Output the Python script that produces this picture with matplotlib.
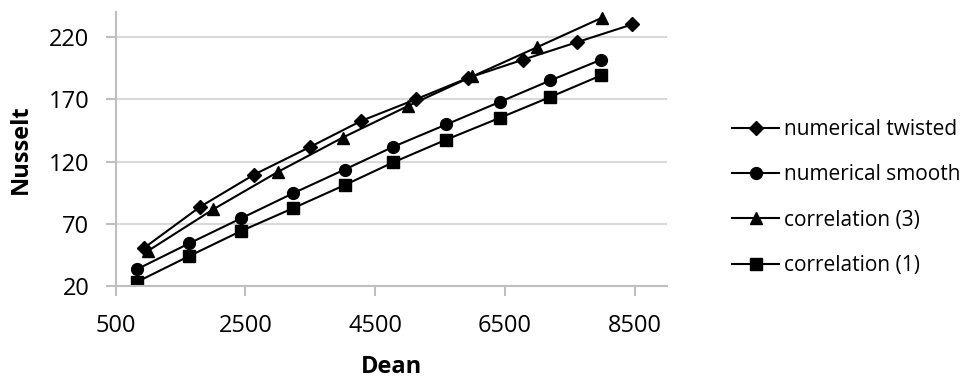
import matplotlib.pyplot as plt

plt.rcParams['font.family'] = ['Open Sans', 'DejaVu Sans']

# Dean numbers and Nusselt values
dean_twisted = [940, 1800, 2635, 3490, 4285, 5125, 5930, 6780, 7615, 8465]
nu_twisted = [50.7, 83.6, 109.6, 131.6, 152.7, 170.0, 187.2, 201.9, 216.0, 230.3]

dean_smooth = [825, 1635, 2430, 3230, 4030, 4775, 5600, 6420, 7200, 7985]
nu_smooth = [33.4, 54.3, 74.3, 94.4, 113.6, 131.8, 149.9, 167.9, 185.2, 201.9]

dean_corr3 = [1000, 2000, 3000, 4000, 5000, 6000, 7000, 8000]
nu_corr3 = [48.3, 81.5, 111.7, 139.3, 164.5, 188.5, 212.0, 235.7]

dean_corr1 = dean_smooth
nu_corr1 = [23.2, 44.1, 64.1, 82.4, 101.1, 119.3, 137.7, 155.1, 171.9, 189.3]

x_ticks = [500, 2500, 4500, 6500, 8500]
y_ticks = [20, 70, 120, 170, 220]

fig = plt.figure(figsize=(9.61, 3.79), dpi=100)
ax = fig.add_axes([0.1204, 0.2454, 0.5736, 0.7221])

ax.plot(dean_twisted, nu_twisted, color='black', lw=1.5, marker='D', ms=7, label='numerical twisted')
ax.plot(dean_smooth, nu_smooth, color='black', lw=1.5, marker='o', ms=8.5, label='numerical smooth')
ax.plot(dean_corr3, nu_corr3, color='black', lw=1.5, marker='^', ms=9, label='correlation (3)')
ax.plot(dean_corr1, nu_corr1, color='black', lw=1.5, marker='s', ms=8.5, label='correlation (1)')

ax.set_xlim(500, 9000)
ax.set_ylim(20, 240)
ax.set_xticks(x_ticks)
ax.set_yticks(y_ticks)

# excel-like light grid and gray axes
ax.grid(axis='y', color='#d9d9d9', lw=1.5)
ax.set_axisbelow(True)
for side in ['top', 'right']:
    ax.spines[side].set_visible(False)
for side in ['left', 'bottom']:
    ax.spines[side].set_color('#bfbfbf')
    ax.spines[side].set_linewidth(1.5)
ax.tick_params(axis='both', colors='#bfbfbf', width=1.5, length=7, labelsize=17, labelcolor='black')
ax.tick_params(axis='x', pad=13.5)
ax.tick_params(axis='y', pad=12)

ax.set_xlabel('Dean', fontsize=17, fontweight='bold', labelpad=12)
ax.set_ylabel('Nusselt', fontsize=17, fontweight='bold', labelpad=11)

ax.legend(loc='center left', bbox_to_anchor=(0.7617, 1 - 197.5 / 379), bbox_transform=fig.transFigure,
          frameon=False, fontsize=15, borderpad=0, borderaxespad=0,
          handlelength=2.26, handletextpad=0.24, labelspacing=1.17)

fig.savefig('out.png', dpi=100)
